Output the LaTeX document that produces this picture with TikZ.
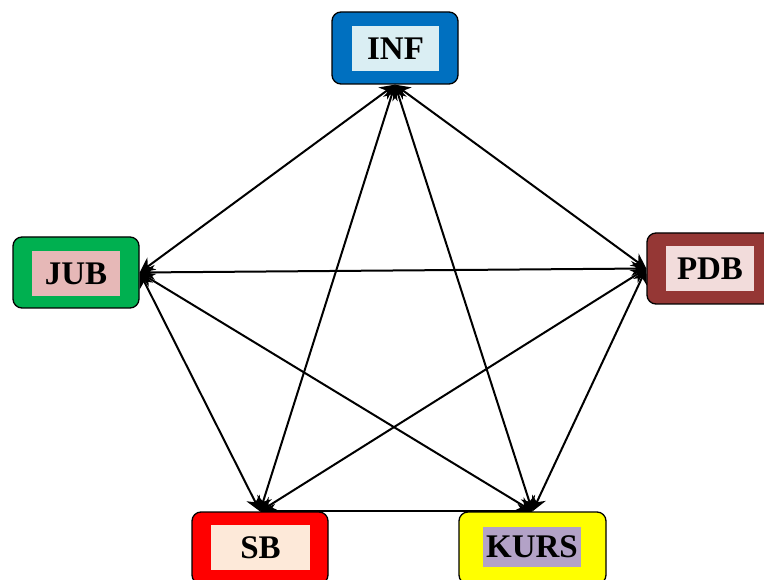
\documentclass[tikz,border=0pt]{standalone}
\usepackage{fontspec}
\setmainfont{Liberation Serif}
\usetikzlibrary{arrows.meta,backgrounds}
\definecolor{infO}{HTML}{0070C0}\definecolor{infI}{HTML}{DAEEF3}
\definecolor{jubO}{HTML}{00B050}\definecolor{jubI}{HTML}{E6B8B7}
\definecolor{pdbO}{HTML}{953735}\definecolor{pdbI}{HTML}{F2DCDB}
\definecolor{sbO}{HTML}{FF0000}\definecolor{sbI}{HTML}{FDE9D9}
\definecolor{kursO}{HTML}{FFFF00}\definecolor{kursI}{HTML}{B3A2C7}
\tikzset{
  outerbox/.style={draw=black, line width=1.3pt, rounded corners=9pt, inner sep=0pt},
  innerbox/.style={inner sep=0pt, font=\fontsize{33}{36}\selectfont\bfseries},
  link/.style={line width=2pt, {Stealth[length=15pt,width=15pt]}-{Stealth[length=15pt,width=15pt]}},
}
\begin{document}
\begin{tikzpicture}[x=1pt,y=-1pt]
\useasboundingbox (0,0) rectangle (764,580);
\clip (0,0) rectangle (764,580);
% nodes
\node[outerbox, fill=infO, minimum width=126pt, minimum height=72pt] (inf) at (395,48) {};
\node[innerbox, fill=infI, minimum width=87pt, minimum height=45pt] (infT) at (395.5,48.5) {INF};
\node[outerbox, fill=jubO, minimum width=126pt, minimum height=71pt] (jub) at (76,272.5) {};
\node[innerbox, fill=jubI, minimum width=88pt, minimum height=45pt] (jubT) at (76,273.5) {JUB};
\node[outerbox, fill=pdbO, minimum width=126pt, minimum height=71pt] (pdb) at (710,268.5) {};
\node[innerbox, fill=pdbI, minimum width=88pt, minimum height=45pt] (pdbT) at (710,268.5) {PDB};
\node[outerbox, fill=sbO, minimum width=136pt, minimum height=72pt] (sb) at (260,548) {};
\node[innerbox, fill=sbI, minimum width=99pt, minimum height=45pt] (sbT) at (260.5,547.5) {SB};
\node[outerbox, fill=kursO, minimum width=147pt, minimum height=72pt] (kurs) at (532.5,548) {};
\node[innerbox, fill=kursI, minimum width=98pt, minimum height=40pt] (kursT) at (532,547) {KURS};
% connectors
\begin{scope}[on background layer]
\draw[link] (inf.south) -- (jub.east);
\draw[link] (inf.south) -- (pdb.west);
\draw[link] (inf.south) -- (sb.north);
\draw[link] (inf.south) -- (kurs.north);
\draw[link] (jub.east) -- (pdb.west);
\draw[link] (jub.east) -- (sb.north);
\draw[link] (jub.east) -- (kurs.north);
\draw[link] (pdb.west) -- (sb.north);
\draw[link] (pdb.west) -- (kurs.north);
\draw[link] (sb.north) -- (kurs.north);
\end{scope}
\end{tikzpicture}
\end{document}
